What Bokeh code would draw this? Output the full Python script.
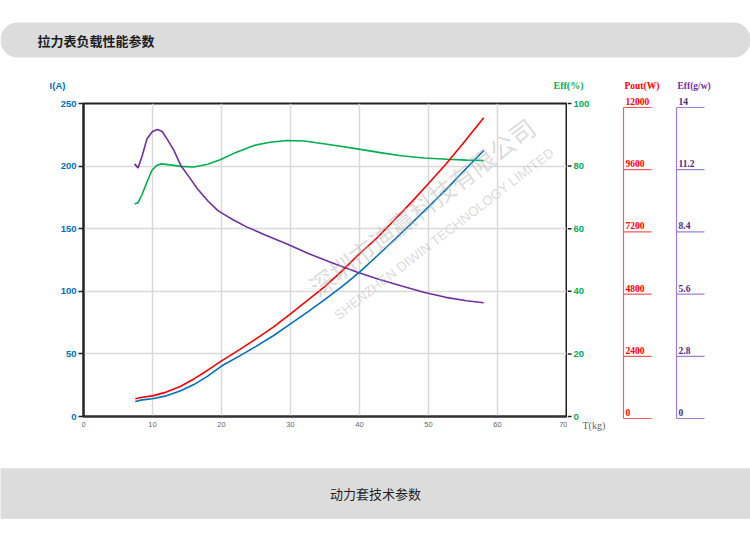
from bokeh.plotting import figure
from bokeh.models import Range1d, FixedTicker, Label, BoxAnnotation
from bokeh.layouts import column, row
from bokeh.core.properties import value
from bokeh.embed import file_html
from bokeh.resources import INLINE

# ---------------- data ----------------
header_title = "拉力表负载性能参数"
footer_title = "动力套技术参数"

x_ticks = [0, 10, 20, 30, 40, 50, 60, 70]
i_ticks = [0, 50, 100, 150, 200, 250]
eff_ticks = [0, 20, 40, 60, 80, 100]
eff_labels = ["0", "20", "40", "60", "80", "100"]
pout_ticks = [0, 2400, 4800, 7200, 9600, 12000]
pout_labels = ["0", "2400", "4800", "7200", "9600", "12000"]
gw_ticks = [0, 2.8, 5.6, 8.4, 11.2, 14]
gw_labels = ["0", "2.8", "5.6", "8.4", "11.2", "14"]

# current I(A)  (blue)
t_i = [7.5, 8.5, 10, 12, 14, 16, 18, 20, 22.5, 25, 27.5, 30, 32.5, 35, 37.5, 40,
       42.5, 45, 47.5, 50, 52.5, 55, 58]
cur_i = [12, 13.3, 14.2, 16.5, 20.3, 25.5, 32.2, 40.3, 48, 56, 64.5, 74, 83.5,
         93.5, 104, 115.3, 128, 141, 154, 167.5, 181, 195.5, 212.5]

# output power Pout(W)  (red)
t_p = [7.5, 8.5, 10, 12, 14, 16, 18, 20, 22.5, 25, 27.5, 30, 32.5, 35, 37.5, 40,
       42.5, 45, 47.5, 50, 52.5, 55, 58]
pout_w = [680, 735, 790, 935, 1150, 1440, 1775, 2135, 2545, 2975, 3430, 3935,
          4465, 4990, 5590, 6240, 6840, 7525, 8210, 8930, 9670, 10465, 11450]

# efficiency Eff(%)  (green)
t_e = [7.4, 7.9, 8.5, 9.2, 9.9, 10.6, 11.2, 12.6, 14.1, 16, 18, 19.9, 22, 24.7,
       27, 29.5, 32, 35.8, 39.7, 43, 46, 49.3, 52.7, 55.5, 58]
eff_pct = [67.9, 68.3, 71, 74.9, 78.6, 80.2, 80.7, 80.4, 79.9, 79.7, 80.6, 82.1,
           84.3, 86.6, 87.6, 88.2, 88.0, 86.8, 85.5, 84.3, 83.3, 82.6, 82.2, 81.9, 81.8]

# efficiency Eff(g/w)  (purple)
t_g = [7.4, 7.9, 8.5, 9.2, 10, 10.7, 11.4, 12.1, 13.1, 14.1, 15.5, 16.5, 18, 19.4,
       20.3, 21.8, 23.7, 26.5, 29.5, 32.5, 35.8, 39.7, 43, 46, 49.3, 52.5, 55.5, 58]
eff_gw = [11.30, 11.12, 11.65, 12.42, 12.75, 12.84, 12.75, 12.42, 11.9, 11.23,
          10.63, 10.19, 9.65, 9.23, 9.05, 8.78, 8.47, 8.1, 7.72, 7.3, 6.90, 6.45,
          6.12, 5.85, 5.56, 5.33, 5.18, 5.09]

# ---------------- style ----------------
BLUE = "#0070c0"
RED = "#ff0000"
GREEN = "#00b050"
PURPLE = "#7030a0"
BAND = "#dcdcdc"
CJK_NAME = "Noto Sans CJK SC"
SANS = "Liberation Sans"
SERIF = "Liberation Serif"

common = dict(output_backend="svg", toolbar_location=None)


def blank(width, height, xr, yr):
    return figure(width=width, height=height, x_range=xr, y_range=yr,
                  x_axis_type=None, y_axis_type=None, min_border=0,
                  outline_line_color=None, **common)


# ---------------- header ----------------
hf = blank(750, 75, Range1d(0, 750), Range1d(0, 75))
hf.add_layout(BoxAnnotation(left=0, right=750, bottom=18, top=53, fill_color=BAND,
                            fill_alpha=1, line_color=None, border_radius=17,
                            level="underlay"))
hf.text(x=[37], y=[35], text=[header_title], text_font=value(CJK_NAME),
        text_font_style="bold", text_font_size="13px", text_baseline="middle",
        text_color="#1e1e1e")

# ---------------- axis titles strip ----------------
sf = blank(750, 20, Range1d(0, 750), Range1d(0, 20))
sf.text(x=[57], y=[10], text=["I(A)"], text_font=value(SANS), text_font_style="bold",
        text_font_size="9.5px", text_color=BLUE, text_align="center",
        text_baseline="middle")
sf.text(x=[568], y=[10], text=["Eff(%)"], text_font=value(SERIF),
        text_font_style="bold", text_font_size="10px", text_color=GREEN,
        text_align="center", text_baseline="middle")
sf.text(x=[624], y=[10], text=["Pout(W)"], text_font=value(SERIF),
        text_font_style="bold", text_font_size="9.5px", text_color=RED,
        text_align="left", text_baseline="middle")
sf.text(x=[677], y=[10], text=["Eff(g/w)"], text_font=value(SERIF),
        text_font_style="bold", text_font_size="9.5px", text_color=PURPLE,
        text_align="left", text_baseline="middle")

# ---------------- main chart ----------------
p = figure(width=567, height=355, x_range=Range1d(0, 70), y_range=Range1d(0, 250),
           min_border_left=83, min_border_right=1, min_border_top=8,
           min_border_bottom=34, **common)
p.extra_y_ranges = {"eff": Range1d(0, 100), "pout": Range1d(0, 12000),
                    "gw": Range1d(0, 14)}
p.outline_line_color = "#222222"
p.outline_line_width = 2

p.xgrid.ticker = FixedTicker(ticks=x_ticks)
p.ygrid.ticker = FixedTicker(ticks=i_ticks)
for g in (p.xgrid, p.ygrid):
    g.grid_line_color = "#d9d9d9"
    g.grid_line_width = 1.5

xa = p.xaxis[0]
xa.ticker = FixedTicker(ticks=x_ticks)
xa.major_tick_out = 0
xa.major_tick_in = 0
xa.minor_tick_line_color = None
xa.axis_line_color = "#333333"
xa.axis_line_width = 2
xa.major_label_text_color = "#666666"
xa.major_label_text_font = SANS
xa.major_label_text_font_size = "7.5px"
xa.major_label_standoff = 5

ya = p.yaxis[0]
ya.ticker = FixedTicker(ticks=i_ticks)
ya.major_tick_out = 5
ya.major_tick_in = 0
ya.minor_tick_line_color = None
ya.axis_line_color = "#222222"
ya.axis_line_width = 2
ya.major_tick_line_color = "#222222"
ya.major_tick_line_width = 1.5
ya.major_label_text_color = BLUE
ya.major_label_text_font = SANS
ya.major_label_text_font_style = "bold"
ya.major_label_text_font_size = "9.5px"
ya.major_label_standoff = 2

# watermark
p.add_layout(Label(x=49, y=168, text="深圳市迪赢科技有限公司", text_font=CJK_NAME,
                   text_font_size="25px", text_color="#b0b0b0", text_alpha=0.45,
                   angle=37, angle_units="deg", text_align="center",
                   text_baseline="middle"))
p.add_layout(Label(x=52.3, y=146, text="SHENZHEN DIWIN TECHNOLOGY LIMITED",
                   text_font=SANS, text_font_size="13.5px",
                   text_color="#b0b0b0", text_alpha=0.45, angle=37.5,
                   angle_units="deg", text_align="center", text_baseline="middle"))

p.line(t_e, eff_pct, y_range_name="eff", line_color=GREEN, line_width=1.6)
p.line(t_g, eff_gw, y_range_name="gw", line_color=PURPLE, line_width=1.6)
p.line(t_p, pout_w, y_range_name="pout", line_color=RED, line_width=1.6)
p.line(t_i, cur_i, line_color=BLUE, line_width=1.6)

# ---------------- Eff(%) scale strip (right of the plot) ----------------
# frame rows: value 100 at 8px from top, value 0 at 321px (same as main frame)
e_top, e_bot, e_h = 8, 321, 355
e_span = eff_ticks[-1] - eff_ticks[0]
e_pp = e_span / (e_bot - e_top)
ef = blank(44, e_h, Range1d(0, 44),
           Range1d(eff_ticks[0] - (e_h - e_bot) * e_pp, eff_ticks[-1] + e_top * e_pp))
ef.segment(x0=[0] * len(eff_ticks), y0=eff_ticks, x1=[4] * len(eff_ticks),
           y1=eff_ticks, line_color="#222222", line_width=1.5)
ef.text(x=[6] * len(eff_ticks), y=eff_ticks, text=eff_labels, text_font=value(SANS),
        text_font_style="bold", text_font_size="9.5px", text_color=GREEN,
        text_baseline="middle", text_align="left")
ef.text(x=[15], y=[eff_ticks[0] - 9 * e_pp], text=["T(kg)"], text_font=value(SERIF),
        text_font_size="10px", text_color="#666666", text_baseline="middle",
        text_align="left")


# ---------------- Pout / Eff(g/w) scales ----------------
def side_scale(width, axis_px, ticks, labels, line_col, lab_col):
    top_px, bot_px, h = 12, 323, 355
    span = ticks[-1] - ticks[0]
    pp = span / (bot_px - top_px)
    tick_len = 28
    f = blank(width, h,
              Range1d(-axis_px / tick_len, (width - axis_px) / tick_len),
              Range1d(ticks[0] - (h - bot_px) * pp, ticks[-1] + top_px * pp))
    f.segment(x0=[0], y0=[ticks[0]], x1=[0], y1=[ticks[-1]], line_color=line_col,
              line_width=1.2)
    f.segment(x0=[0] * len(ticks), y0=ticks, x1=[1] * len(ticks), y1=ticks,
              line_color=line_col, line_width=1.2)
    f.text(x=[0] * len(ticks), y=ticks, text=labels, x_offset=2, y_offset=-2.5,
           text_font=value(SERIF), text_font_style="bold", text_font_size="9.5px",
           text_color=lab_col, text_baseline="bottom", text_align="left")
    return f


pf = side_scale(49, 12, pout_ticks, pout_labels, "#ff5a5a", RED)
gf = side_scale(90, 16, gw_ticks, gw_labels, "#a27fd6", "#4a2a86")

# ---------------- footer ----------------
ff = blank(750, 89, Range1d(0, 750), Range1d(0, 89))
ff.add_layout(BoxAnnotation(left=0, right=750, bottom=21, top=71, fill_color=BAND,
                            fill_alpha=1, line_color="#cfcfcf", line_width=1,
                            level="underlay"))
ff.text(x=[375], y=[46], text=[footer_title], text_font=value(CJK_NAME),
        text_font_size="13px", text_baseline="middle", text_align="center",
        text_color="#1e1e1e")

# each scale strip is wrapped on its own so that its frame is not aligned to the
# main plot's frame
middle = row(p, column(ef), column(pf), column(gf))
layout = column(hf, sf, middle, ff)
open("out.html", "w").write(file_html(layout, INLINE))
